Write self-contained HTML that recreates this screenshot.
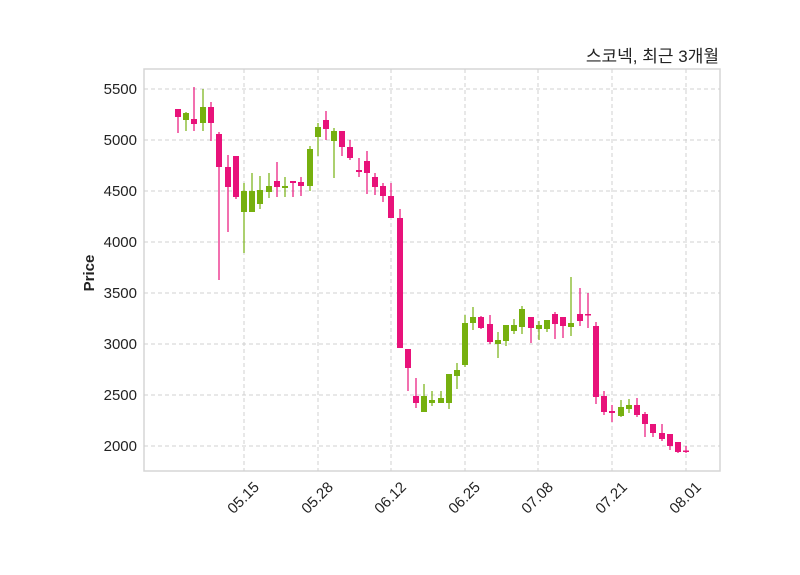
<!DOCTYPE html>
<html><head><meta charset="utf-8"><style>
html,body{margin:0;padding:0;background:#fff}
svg{display:block}
text{font-family:"Liberation Sans","Noto Sans CJK KR",sans-serif;fill:#222}
.g{stroke:#d0d0d0;stroke-width:1;stroke-dasharray:4,3}
.p line{stroke:#e8127a;stroke-width:1.2}.p rect{fill:#e8127a}
.u line{stroke:#76b00f;stroke-width:1.2}.u rect{fill:#76b00f}
</style></head><body>
<svg width="800" height="575" viewBox="0 0 800 575">
<rect x="144" y="69" width="576" height="402" fill="#fff" stroke="#d6d6d6" stroke-width="1.5"/>
<g class="g">
<line x1="144" y1="89" x2="720" y2="89"/><line x1="144" y1="140" x2="720" y2="140"/><line x1="144" y1="191" x2="720" y2="191"/><line x1="144" y1="242" x2="720" y2="242"/><line x1="144" y1="293" x2="720" y2="293"/><line x1="144" y1="344" x2="720" y2="344"/><line x1="144" y1="395" x2="720" y2="395"/><line x1="144" y1="446" x2="720" y2="446"/>
<line x1="244" y1="69" x2="244" y2="471"/><line x1="318" y1="69" x2="318" y2="471"/><line x1="391" y1="69" x2="391" y2="471"/><line x1="465" y1="69" x2="465" y2="471"/><line x1="538" y1="69" x2="538" y2="471"/><line x1="612" y1="69" x2="612" y2="471"/><line x1="686" y1="69" x2="686" y2="471"/>
</g>
<g font-size="15" text-anchor="end">
<text x="137" y="94">5500</text><text x="137" y="145">5000</text><text x="137" y="196">4500</text><text x="137" y="247">4000</text><text x="137" y="298">3500</text><text x="137" y="349">3000</text><text x="137" y="400">2500</text><text x="137" y="451">2000</text>
</g>
<g font-size="15" text-anchor="end">
<text transform="translate(260,488) rotate(-45)">05.15</text>
<text transform="translate(334,488) rotate(-45)">05.28</text>
<text transform="translate(407,488) rotate(-45)">06.12</text>
<text transform="translate(481,488) rotate(-45)">06.25</text>
<text transform="translate(554,488) rotate(-45)">07.08</text>
<text transform="translate(628,488) rotate(-45)">07.21</text>
<text transform="translate(702,488) rotate(-45)">08.01</text>
</g>
<text transform="translate(94,273) rotate(-90)" font-size="15" font-weight="bold" text-anchor="middle">Price</text>
<text x="719" y="62" font-size="17" text-anchor="end">스코넥, 최근 3개월</text>

<g class="p"><line x1="178" y1="109" x2="178" y2="133"/><rect x="175" y="109" width="6" height="8"/></g>
<g class="u"><line x1="186" y1="112" x2="186" y2="131"/><rect x="183" y="113" width="6" height="7"/></g>
<g class="p"><line x1="194" y1="87" x2="194" y2="131"/><rect x="191" y="119" width="6" height="5"/></g>
<g class="u"><line x1="203" y1="89" x2="203" y2="131"/><rect x="200" y="107" width="6" height="16"/></g>
<g class="p"><line x1="211" y1="102" x2="211" y2="141"/><rect x="208" y="107" width="6" height="16"/></g>
<g class="p"><line x1="219" y1="132" x2="219" y2="280"/><rect x="216" y="134" width="6" height="33"/></g>
<g class="p"><line x1="228" y1="155" x2="228" y2="232"/><rect x="225" y="167" width="6" height="20"/></g>
<g class="p"><line x1="236" y1="156" x2="236" y2="199"/><rect x="233" y="156" width="6" height="41"/></g>
<g class="u"><line x1="244" y1="183" x2="244" y2="253"/><rect x="241" y="191" width="6" height="21"/></g>
<g class="u"><line x1="252" y1="173" x2="252" y2="212"/><rect x="249" y="191" width="6" height="21"/></g>
<g class="u"><line x1="260" y1="176" x2="260" y2="209"/><rect x="257" y="190" width="6" height="14"/></g>
<g class="u"><line x1="269" y1="173" x2="269" y2="198"/><rect x="266" y="186" width="6" height="6"/></g>
<g class="p"><line x1="277" y1="162" x2="277" y2="197"/><rect x="274" y="181" width="6" height="6"/></g>
<g class="u"><line x1="285" y1="177" x2="285" y2="197"/><rect x="282" y="186" width="6" height="2"/></g>
<g class="p"><line x1="293" y1="181" x2="293" y2="197"/><rect x="290" y="181" width="6" height="2"/></g>
<g class="p"><line x1="301" y1="177" x2="301" y2="196"/><rect x="298" y="182" width="6" height="4"/></g>
<g class="u"><line x1="310" y1="146" x2="310" y2="191"/><rect x="307" y="149" width="6" height="37"/></g>
<g class="u"><line x1="318" y1="123" x2="318" y2="156"/><rect x="315" y="127" width="6" height="10"/></g>
<g class="p"><line x1="326" y1="111" x2="326" y2="140"/><rect x="323" y="120" width="6" height="9"/></g>
<g class="u"><line x1="334" y1="128" x2="334" y2="178"/><rect x="331" y="131" width="6" height="10"/></g>
<g class="p"><line x1="342" y1="131" x2="342" y2="156"/><rect x="339" y="131" width="6" height="16"/></g>
<g class="p"><line x1="350" y1="140" x2="350" y2="160"/><rect x="347" y="147" width="6" height="11"/></g>
<g class="p"><line x1="359" y1="158" x2="359" y2="177"/><rect x="356" y="170" width="6" height="2"/></g>
<g class="p"><line x1="367" y1="151" x2="367" y2="194"/><rect x="364" y="161" width="6" height="12"/></g>
<g class="p"><line x1="375" y1="173" x2="375" y2="195"/><rect x="372" y="177" width="6" height="10"/></g>
<g class="p"><line x1="383" y1="183" x2="383" y2="202"/><rect x="380" y="186" width="6" height="10"/></g>
<g class="p"><line x1="391" y1="183" x2="391" y2="218"/><rect x="388" y="196" width="6" height="22"/></g>
<g class="p"><line x1="400" y1="209" x2="400" y2="348"/><rect x="397" y="218" width="6" height="130"/></g>
<g class="p"><line x1="408" y1="349" x2="408" y2="391"/><rect x="405" y="349" width="6" height="19"/></g>
<g class="p"><line x1="416" y1="378" x2="416" y2="408"/><rect x="413" y="396" width="6" height="7"/></g>
<g class="u"><line x1="424" y1="384" x2="424" y2="412"/><rect x="421" y="396" width="6" height="16"/></g>
<g class="u"><line x1="432" y1="391" x2="432" y2="406"/><rect x="429" y="400" width="6" height="3"/></g>
<g class="u"><line x1="441" y1="391" x2="441" y2="403"/><rect x="438" y="398" width="6" height="5"/></g>
<g class="u"><line x1="449" y1="374" x2="449" y2="409"/><rect x="446" y="374" width="6" height="29"/></g>
<g class="u"><line x1="457" y1="363" x2="457" y2="389"/><rect x="454" y="370" width="6" height="6"/></g>
<g class="u"><line x1="465" y1="315" x2="465" y2="367"/><rect x="462" y="323" width="6" height="42"/></g>
<g class="u"><line x1="473" y1="307" x2="473" y2="330"/><rect x="470" y="317" width="6" height="6"/></g>
<g class="p"><line x1="481" y1="316" x2="481" y2="329"/><rect x="478" y="317" width="6" height="11"/></g>
<g class="p"><line x1="490" y1="315" x2="490" y2="344"/><rect x="487" y="324" width="6" height="18"/></g>
<g class="u"><line x1="498" y1="332" x2="498" y2="358"/><rect x="495" y="340" width="6" height="4"/></g>
<g class="u"><line x1="506" y1="325" x2="506" y2="346"/><rect x="503" y="325" width="6" height="16"/></g>
<g class="u"><line x1="514" y1="319" x2="514" y2="334"/><rect x="511" y="325" width="6" height="6"/></g>
<g class="u"><line x1="522" y1="306" x2="522" y2="334"/><rect x="519" y="309" width="6" height="18"/></g>
<g class="p"><line x1="531" y1="317" x2="531" y2="343"/><rect x="528" y="317" width="6" height="11"/></g>
<g class="u"><line x1="539" y1="321" x2="539" y2="340"/><rect x="536" y="325" width="6" height="4"/></g>
<g class="u"><line x1="547" y1="320" x2="547" y2="332"/><rect x="544" y="320" width="6" height="9"/></g>
<g class="p"><line x1="555" y1="312" x2="555" y2="339"/><rect x="552" y="314" width="6" height="10"/></g>
<g class="p"><line x1="563" y1="317" x2="563" y2="338"/><rect x="560" y="317" width="6" height="9"/></g>
<g class="u"><line x1="571" y1="277" x2="571" y2="336"/><rect x="568" y="323" width="6" height="4"/></g>
<g class="p"><line x1="580" y1="288" x2="580" y2="326"/><rect x="577" y="314" width="6" height="7"/></g>
<g class="p"><line x1="588" y1="293" x2="588" y2="328"/><rect x="585" y="314" width="6" height="1.5"/></g>
<g class="p"><line x1="596" y1="322" x2="596" y2="404"/><rect x="593" y="326" width="6" height="71"/></g>
<g class="p"><line x1="604" y1="391" x2="604" y2="415"/><rect x="601" y="396" width="6" height="16"/></g>
<g class="p"><line x1="612" y1="405" x2="612" y2="422"/><rect x="609" y="411" width="6" height="2"/></g>
<g class="u"><line x1="621" y1="400" x2="621" y2="417"/><rect x="618" y="407" width="6" height="9"/></g>
<g class="u"><line x1="629" y1="399" x2="629" y2="413"/><rect x="626" y="405" width="6" height="4"/></g>
<g class="p"><line x1="637" y1="398" x2="637" y2="417"/><rect x="634" y="405" width="6" height="10"/></g>
<g class="p"><line x1="645" y1="412" x2="645" y2="437"/><rect x="642" y="414" width="6" height="10"/></g>
<g class="p"><line x1="653" y1="424" x2="653" y2="437"/><rect x="650" y="424" width="6" height="9"/></g>
<g class="p"><line x1="662" y1="424" x2="662" y2="441"/><rect x="659" y="433" width="6" height="6"/></g>
<g class="p"><line x1="670" y1="434" x2="670" y2="450"/><rect x="667" y="434" width="6" height="12"/></g>
<g class="p"><line x1="678" y1="442" x2="678" y2="453"/><rect x="675" y="442" width="6" height="10"/></g>
<g class="p"><line x1="686" y1="446" x2="686" y2="453"/><rect x="683" y="450.5" width="6" height="1.5"/></g>
</svg>
</body></html>
